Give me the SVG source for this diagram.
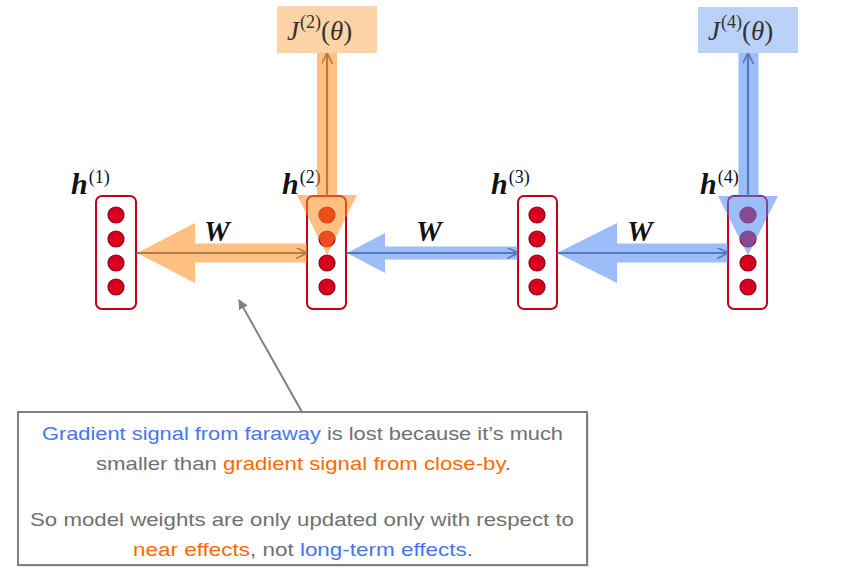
<svg xmlns="http://www.w3.org/2000/svg" width="868" height="588" viewBox="0 0 868 588">
<style>
.box{fill:#fff;stroke:#C4001A;stroke-width:2}
.dot{fill:#D8001E;stroke:#8E0012;stroke-width:1.2}
.thin{stroke:#5f6878;stroke-width:2.2;fill:none}
.og{fill:#FF8C1A;fill-opacity:0.55}
.bl{fill:#4A86F0;fill-opacity:0.55}
.lab{font-family:"Liberation Serif",serif;font-weight:bold;font-style:italic;font-size:30px;fill:#111}
.sup{font-family:"Liberation Serif",serif;font-weight:normal;font-style:normal;font-size:18px;fill:#111}
.w{font-family:"Liberation Serif",serif;font-weight:bold;font-style:italic;font-size:29px;fill:#111}
.jt{font-family:"Liberation Serif",serif;font-size:27px;fill:#333}
.jsup{font-size:18px}
.note{font-family:"Liberation Sans",Arial,sans-serif;font-size:19px;fill:#707070}
.b{fill:#4477EE}
.o{fill:#FF6A00}
</style>
<defs>
<marker id="ah" viewBox="0 0 10 10" refX="9" refY="5" markerWidth="5" markerHeight="5" orient="auto">
<path d="M0,0 L10,5 L0,10" fill="none" stroke="#5f6878" stroke-width="1.5"/>
</marker>
<marker id="gh" viewBox="0 0 10 10" refX="9" refY="5" markerWidth="5" markerHeight="5" orient="auto">
<path d="M0,0 L10,5 L0,10 z" fill="#808080"/>
</marker>
</defs>

<g id="J2">
<rect x="277" y="6" width="100" height="47" class="og" style="fill-opacity:0.38"/>
<text x="287" y="40" class="jt"><tspan font-style="italic">J</tspan><tspan class="jsup" dx="1" dy="-12">(2)</tspan><tspan dy="12">(</tspan><tspan font-style="italic">θ</tspan><tspan>)</tspan></text>
</g>
<g id="J4">
<rect x="698" y="7" width="100" height="46" class="bl" style="fill-opacity:0.38"/>
<text x="708" y="40" class="jt"><tspan font-style="italic">J</tspan><tspan class="jsup" dx="1" dy="-12">(4)</tspan><tspan dy="12">(</tspan><tspan font-style="italic">θ</tspan><tspan>)</tspan></text>
</g>

<g id="h1">
<rect x="96" y="196" width="40" height="113" rx="6" class="box"/>
<circle cx="116" cy="215" r="8" class="dot"/><circle cx="116" cy="239" r="8" class="dot"/><circle cx="116" cy="263" r="8" class="dot"/><circle cx="116" cy="287" r="8" class="dot"/>
<text x="71" y="194" class="lab">h<tspan class="sup" dx="1" dy="-11">(1)</tspan></text>
</g>
<g id="h2">
<rect x="307" y="196" width="39" height="113" rx="6" class="box"/>
<circle cx="327" cy="215" r="8" class="dot"/><circle cx="327" cy="239" r="8" class="dot"/><circle cx="327" cy="263" r="8" class="dot"/><circle cx="327" cy="287" r="8" class="dot"/>
<text x="282" y="194" class="lab">h<tspan class="sup" dx="1" dy="-11">(2)</tspan></text>
</g>
<g id="h3">
<rect x="518" y="196" width="39" height="113" rx="6" class="box"/>
<circle cx="537" cy="215" r="8" class="dot"/><circle cx="537" cy="239" r="8" class="dot"/><circle cx="537" cy="263" r="8" class="dot"/><circle cx="537" cy="287" r="8" class="dot"/>
<text x="491" y="194" class="lab">h<tspan class="sup" dx="1" dy="-11">(3)</tspan></text>
</g>
<g id="h4">
<rect x="728" y="196" width="39" height="113" rx="6" class="box"/>
<circle cx="748" cy="215" r="8" class="dot"/><circle cx="748" cy="239" r="8" class="dot"/><circle cx="748" cy="263" r="8" class="dot"/><circle cx="748" cy="287" r="8" class="dot"/>
<text x="700" y="194" class="lab">h<tspan class="sup" dx="1" dy="-11">(4)</tspan></text>
</g>

<g id="connectors">
<line x1="136" y1="253" x2="306" y2="253" class="thin" marker-end="url(#ah)"/>
<line x1="346" y1="253" x2="517" y2="253" class="thin" marker-end="url(#ah)"/>
<line x1="557" y1="253" x2="727" y2="253" class="thin" marker-end="url(#ah)"/>
<line x1="327" y1="196" x2="327" y2="54" class="thin" marker-end="url(#ah)"/>
<line x1="748" y1="196" x2="748" y2="54" class="thin" marker-end="url(#ah)"/>
<polygon class="og" points="137,253 195,223 195,243.5 307,243.5 307,262.5 195,262.5 195,283"/>
<polygon class="bl" points="347,253 385,233 385,246.5 518,246.5 518,259.5 385,259.5 385,273"/>
<polygon class="bl" points="557,253 617,223 617,243.5 728,243.5 728,262.5 617,262.5 617,283"/>
<polygon class="og" points="317,53 337,53 337,195 357,195 327,255 297,195 317,195"/>
<polygon class="bl" points="738.5,53 758.5,53 758.5,196 778,196 748,255 718,196 738.5,196"/>
<line x1="302" y1="412" x2="239" y2="300" stroke="#808080" stroke-width="2" marker-end="url(#gh)"/>
<text x="204" y="241" class="w">W</text>
<text x="416" y="241" class="w">W</text>
<text x="627" y="241" class="w">W</text>
</g>

<g id="note">
<rect x="20" y="414" width="569" height="153" fill="#e4e4e4"/>
<rect x="18" y="412" width="569" height="153" fill="#fff" stroke="#808080" stroke-width="2"/>
<text x="42" y="440" class="note" textLength="521" lengthAdjust="spacingAndGlyphs"><tspan class="b">Gradient signal from faraway</tspan> is lost because it’s much</text>
<text x="96" y="470" class="note" textLength="415" lengthAdjust="spacingAndGlyphs">smaller than <tspan class="o">gradient signal from close-by</tspan>.</text>
<text x="30" y="526" class="note" textLength="544" lengthAdjust="spacingAndGlyphs">So model weights are only updated only with respect to</text>
<text x="133" y="556" class="note" textLength="340" lengthAdjust="spacingAndGlyphs"><tspan class="o">near effects</tspan>, not <tspan class="b">long-term effects</tspan>.</text>
</g>
</svg>
